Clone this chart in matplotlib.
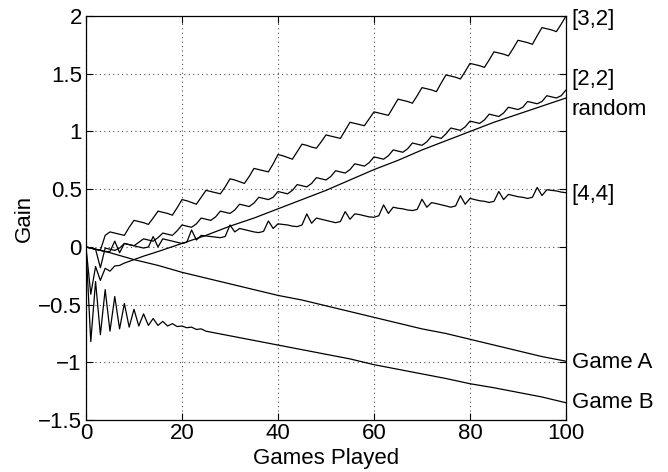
import matplotlib
matplotlib.use("Agg")
import matplotlib.pyplot as plt

plt.rcParams['font.family'] = ['Liberation Sans', 'DejaVu Sans']

# games 0..100
games = list(range(0, 101))

gain_32 = [0, -0.01, -0.02, -0.03, 0.10, 0.13,
           0.12, 0.11, 0.10, 0.17, 0.23,
           0.22, 0.21, 0.195, 0.25, 0.31,
           0.30, 0.29, 0.275, 0.34, 0.41,
           0.40, 0.385, 0.37, 0.43, 0.49,
           0.48, 0.47, 0.46, 0.52, 0.59,
           0.58, 0.565, 0.55, 0.61, 0.68,
           0.67, 0.66, 0.65, 0.72, 0.80,
           0.79, 0.775, 0.76, 0.825, 0.89,
           0.88, 0.865, 0.855, 0.91, 0.97,
           0.96, 0.95, 0.94, 1.01, 1.08,
           1.07, 1.06, 1.05, 1.11, 1.17,
           1.16, 1.15, 1.14, 1.21, 1.28,
           1.27, 1.26, 1.245, 1.31, 1.38,
           1.37, 1.36, 1.345, 1.42, 1.49,
           1.48, 1.47, 1.455, 1.52, 1.59,
           1.58, 1.57, 1.555, 1.62, 1.69,
           1.68, 1.67, 1.655, 1.72, 1.79,
           1.78, 1.77, 1.755, 1.83, 1.90,
           1.89, 1.88, 1.865, 1.93, 2.00]

gain_22 = [0, -0.01, -0.02, -0.18, -0.01,
           -0.02, -0.03, -0.01, 0.03,
           0.02, 0.01, 0.04, 0.07,
           0.06, 0.05, 0.08, 0.12,
           0.11, 0.10, 0.14, 0.19,
           0.18, 0.17, 0.20, 0.25,
           0.24, 0.23, 0.26, 0.31,
           0.30, 0.29, 0.32, 0.37,
           0.36, 0.35, 0.38, 0.43,
           0.42, 0.41, 0.43, 0.48,
           0.47, 0.46, 0.49, 0.54,
           0.53, 0.52, 0.55, 0.60,
           0.59, 0.58, 0.61, 0.66,
           0.65, 0.64, 0.67, 0.72,
           0.71, 0.70, 0.73, 0.78,
           0.77, 0.76, 0.79, 0.84,
           0.83, 0.82, 0.85, 0.90,
           0.89, 0.88, 0.91, 0.96,
           0.95, 0.94, 0.98, 1.03,
           1.02, 1.01, 1.04, 1.09,
           1.08, 1.07, 1.10, 1.15,
           1.14, 1.13, 1.16, 1.21,
           1.20, 1.19, 1.21, 1.26,
           1.25, 1.24, 1.26, 1.31,
           1.30, 1.29, 1.31, 1.36]

gain_44 = [0, -0.01, -0.02, -0.03, -0.04,
           -0.04, 0.05, -0.05, 0.03,
           0.02, 0.01, 0.0, -0.01,
           0.0, 0.09, 0.0, 0.07,
           0.06, 0.05, 0.04, 0.03,
           0.04, 0.147, 0.06, 0.10,
           0.095, 0.09, 0.085, 0.08,
           0.09, 0.19, 0.13, 0.16,
           0.15, 0.14, 0.13, 0.124,
           0.135, 0.225, 0.16, 0.20,
           0.195, 0.19, 0.18, 0.176,
           0.19, 0.286, 0.205, 0.25,
           0.24, 0.23, 0.22, 0.21,
           0.22, 0.306, 0.24, 0.286,
           0.28, 0.27, 0.26, 0.257,
           0.27, 0.364, 0.29, 0.344,
           0.335, 0.33, 0.32, 0.315,
           0.325, 0.413, 0.344, 0.384,
           0.375, 0.365, 0.355, 0.344,
           0.355, 0.444, 0.37, 0.42,
           0.41, 0.40, 0.395, 0.385,
           0.395, 0.48, 0.41, 0.455,
           0.445, 0.435, 0.43, 0.42,
           0.43, 0.515, 0.445, 0.495,
           0.49, 0.485, 0.475, 0.47]

random_x = [0, 1, 2, 3, 4, 5, 6, 7, 8, 10, 12, 15, 20, 25, 30, 35, 40, 45,
            50, 55, 60, 65, 70, 75, 80, 85, 90, 95, 100]
random_y = [0, -0.41, -0.17, -0.29, -0.185, -0.21, -0.165, -0.16, -0.14,
            -0.11, -0.08, -0.04, 0.03, 0.10, 0.18, 0.25, 0.33, 0.41,
            0.49, 0.58, 0.67, 0.75, 0.84, 0.92, 1.00, 1.08, 1.15, 1.22, 1.29]

gameA_x = [0, 5, 10, 15, 20, 25, 30, 35, 40, 45, 50, 55, 60, 65, 70, 75,
           80, 85, 90, 95, 100]
gameA_y = [0, -0.05, -0.11, -0.16, -0.22, -0.27, -0.32, -0.37, -0.42, -0.46,
           -0.51, -0.56, -0.61, -0.66, -0.71, -0.75, -0.80, -0.85, -0.90,
           -0.95, -0.99]

gameB_x = [0, 1, 2, 3, 4, 5, 6, 7, 8, 9, 10, 11, 12, 13, 14, 15, 16, 17, 18,
           19, 20, 21, 22, 23, 24, 25, 30, 35, 40, 45, 50, 55, 60, 65, 70,
           75, 80, 85, 90, 95, 100]
gameB_y = [0, -0.82, -0.30, -0.76, -0.37, -0.73, -0.43, -0.71, -0.49, -0.695,
           -0.54, -0.685, -0.58, -0.68, -0.62, -0.68, -0.645, -0.685, -0.665,
           -0.69, -0.685, -0.70, -0.695, -0.715, -0.71, -0.73, -0.77, -0.81,
           -0.85, -0.89, -0.93, -0.97, -1.02, -1.06, -1.10, -1.14, -1.185,
           -1.22, -1.26, -1.30, -1.35]

curve_labels = ['[3,2]', '[2,2]', 'random', '[4,4]', 'Game A', 'Game B']
label_y = [1.97, 1.45, 1.19, 0.45, -1.0, -1.35]

x_ticks = [0, 20, 40, 60, 80, 100]
y_ticks = [-1.5, -1, -0.5, 0, 0.5, 1, 1.5, 2]
y_tick_labels = ['\u22121.5', '\u22121', '\u22120.5', '0', '0.5', '1', '1.5', '2']

fig = plt.figure(figsize=(6.68, 4.72), dpi=100)
ax = fig.add_axes([0.1287, 0.110, 0.7186, 0.856])

lw = 0.9
ax.plot(games, gain_32, color='black', linewidth=lw)
ax.plot(games, gain_22, color='black', linewidth=lw)
ax.plot(random_x, random_y, color='black', linewidth=lw)
ax.plot(games, gain_44, color='black', linewidth=lw)
ax.plot(gameA_x, gameA_y, color='black', linewidth=lw)
ax.plot(gameB_x, gameB_y, color='black', linewidth=lw)

for txt, yy in zip(curve_labels, label_y):
    ax.text(101.2, yy, txt, fontsize=16, va='center', ha='left', clip_on=False)

ax.set_xlim(0, 100)
ax.set_ylim(-1.5, 2)
ax.set_xticks(x_ticks)
ax.set_yticks(y_ticks)
ax.set_yticklabels(y_tick_labels)
ax.tick_params(direction='in', length=5, width=0.8, labelsize=16,
               top=True, right=True, pad=3)
ax.tick_params(axis='x', pad=2)
ax.grid(True, linestyle=(0, (1, 3)), color='0.3', linewidth=0.8)
for sp in ax.spines.values():
    sp.set_linewidth(0.9)

ax.set_xlabel('Games Played', fontsize=16, labelpad=3)
ax.set_ylabel('Gain', fontsize=16, labelpad=2)

fig.savefig('out.png', dpi=100)
